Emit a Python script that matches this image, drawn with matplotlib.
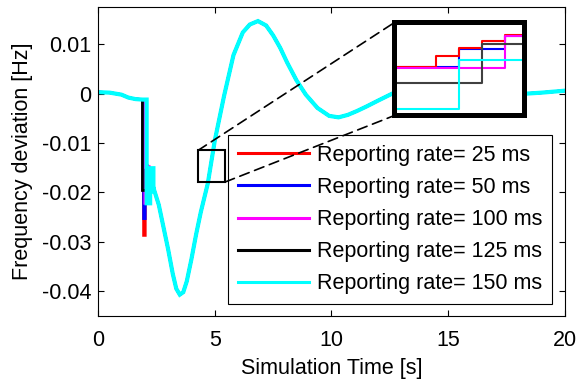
import numpy as np
import matplotlib
matplotlib.use('Agg')
from matplotlib import pyplot as plt
from matplotlib.patches import Rectangle, ConnectionPatch
from matplotlib.lines import Line2D

plt.rcParams['font.family'] = ['Liberation Sans', 'DejaVu Sans']

# common part of the response (s, Hz)
t_pre = [0.0, 0.5, 1.0, 1.3, 1.6, 1.9]
f_pre = [0.0003, 0.0002, -0.0002, -0.0008, -0.0011, -0.0012]

t_post = [2.4, 2.6, 2.8, 3.0, 3.2, 3.35, 3.5, 3.65, 3.8, 4.0, 4.2, 4.4, 4.7,
          5.0, 5.4, 5.8, 6.2, 6.5, 6.85, 7.2, 7.5, 7.8, 8.1, 8.5, 8.9, 9.4,
          9.9, 10.3, 10.7, 11.1, 11.5, 12.0, 12.6, 13.5, 15.0, 16.5, 18.0,
          19.0, 20.0]
f_post = [-0.0195, -0.0225, -0.0270, -0.0315, -0.0365, -0.0395, -0.0407,
          -0.0402, -0.0380, -0.0335, -0.0285, -0.0240, -0.0182, -0.0095,
          -0.0004, 0.0078, 0.0124, 0.0140, 0.0147, 0.0138, 0.0118, 0.0093,
          0.0063, 0.0027, -0.0002, -0.0029, -0.0045, -0.0048, -0.0043,
          -0.0035, -0.0026, -0.0014, 0.0000, 0.0005, 0.0004, 0.0001,
          -0.0001, 0.0002, 0.0006]

# the disturbance at ~2 s, seen differently at each reporting rate
dip_t = {
    25: [1.95, 1.95, 2.02, 2.02, 2.15, 2.25],
    50: [1.95, 1.95, 2.02, 2.02, 2.15, 2.25],
    100: [2.0, 2.0, 2.1, 2.1, 2.2, 2.3],
    125: [1.9, 1.9, 2.05, 2.05, 2.2, 2.3],
    150: [2.08, 2.08, 2.23, 2.23, 2.37, 2.37],
}
dip_f = {
    25: [-0.0012, -0.0287, -0.0287, -0.0160, -0.0150, -0.0170],
    50: [-0.0012, -0.0253, -0.0253, -0.0160, -0.0150, -0.0170],
    100: [-0.0012, -0.0222, -0.0222, -0.0148, -0.0148, -0.0185],
    125: [-0.0012, -0.0196, -0.0196, -0.0155, -0.0155, -0.0185],
    150: [-0.0012, -0.0222, -0.0222, -0.0151, -0.0151, -0.0196],
}

# zoomed detail (steps) shown in the inset
inset_t = {
    25: [4.805, 4.850, 4.875, 4.900, 4.925, 4.946],
    50: [4.805, 4.875, 4.925, 4.946],
    100: [4.805, 4.925, 4.946],
    125: [4.805, 4.900, 4.946],
    150: [4.805, 4.875, 4.946],
}
inset_f = {
    25: [-0.01548, -0.01536, -0.01527, -0.01520, -0.01513, -0.01513],
    50: [-0.01548, -0.01529, -0.01515, -0.01515],
    100: [-0.01549, -0.01515, -0.01515],
    125: [-0.01565, -0.01523, -0.01523],
    150: [-0.01593, -0.01540, -0.01540],
}

rates = [25, 50, 100, 125, 150]
colors = {25: 'red', 50: 'blue', 100: 'magenta', 125: 'black', 150: 'cyan'}

fig = plt.figure(figsize=(5.77, 3.81), dpi=100)
ax = fig.add_axes([0.170, 0.171, 0.809, 0.810])

handles = []
for r in rates:
    t = t_pre + dip_t[r] + t_post
    f = f_pre + dip_f[r] + f_post
    lw = 3.0 if r == 150 else 2.0
    ax.plot(t, f, color=colors[r], lw=lw, solid_joinstyle='miter')
    handles.append(Line2D([], [], color=colors[r], lw=2.2))

ax.set_xlim(0, 20)
ax.set_ylim(-0.045, 0.0175)
ax.set_xticks([0, 5, 10, 15, 20])
ax.set_yticks([-0.04, -0.03, -0.02, -0.01, 0, 0.01])
ax.set_yticklabels(['-0.04', '-0.03', '-0.02', '-0.01', '0', '0.01'])
ax.tick_params(direction='in', top=True, right=True, length=4, width=0.8,
               labelsize=15.5)
ax.tick_params(axis='x', pad=10)
ax.tick_params(axis='y', pad=5)
for s in ax.spines.values():
    s.set_linewidth(0.8)
ax.set_xlabel('Simulation Time [s]', fontsize=15.5, labelpad=5)
ax.set_ylabel('Frequency deviation [Hz]', fontsize=15.5, labelpad=6)

leg = ax.legend(handles, ['Reporting rate= %d ms' % r for r in rates],
                loc='upper left', bbox_to_anchor=(228 / 577, 1 - 135 / 381),
                bbox_transform=fig.transFigure, borderaxespad=0,
                fontsize=15.5, frameon=True, fancybox=False,
                handlelength=3.3, handletextpad=0.4, labelspacing=0.52,
                borderpad=0.45)
leg.get_frame().set_edgecolor('black')
leg.get_frame().set_linewidth(0.8)
leg.get_frame().set_alpha(1)

# box marking the zoomed region
x0, x1, y0, y1 = 4.28, 5.44, -0.0179, -0.0115
ax.add_patch(Rectangle((x0, y0), x1 - x0, y1 - y0, fill=False,
                       edgecolor='black', lw=1.5, zorder=5))

axins = fig.add_axes([0.6837, 0.6969, 0.2253, 0.2441])
for r in [50, 25, 100, 125, 150]:
    c = '0.25' if r == 125 else colors[r]
    axins.plot(inset_t[r], inset_f[r], color=c, lw=1.5, drawstyle='steps-post')
axins.set_xlim(4.805, 4.946)
axins.set_ylim(-0.0160, -0.0150)
axins.set_xticks([])
axins.set_yticks([])
for s in axins.spines.values():
    s.set_linewidth(3.6)

for xa, ya, xb, yb in [(x0, y1, 0, 1), (x1, y0, 0, 0)]:
    con = ConnectionPatch(xyA=(xa, ya), coordsA=ax.transData,
                          xyB=(xb, yb), coordsB=axins.transAxes,
                          color='black', lw=1.2, linestyle=(0, (6, 3.5)))
    con.set_zorder(10)
    fig.add_artist(con)

fig.savefig('out.png', dpi=100)
